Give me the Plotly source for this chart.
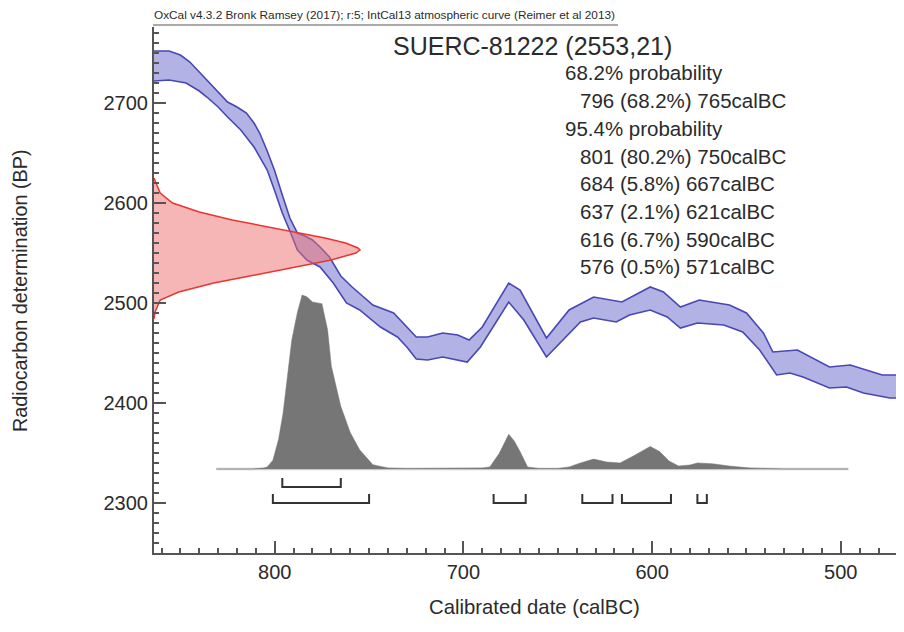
import plotly.graph_objects as go

# ---------------- data ----------------
# IntCal13 band, upper edge (calBC, BP)
curve_upper_year = [864, 856, 850, 845, 840, 835, 830, 825, 820, 815, 811, 808, 804, 800, 796, 792,
                    788, 784, 780, 776, 771, 765, 759, 748, 737, 730, 725, 719, 711, 703, 697, 690,
                    676, 670, 656, 644, 631, 616, 601, 594, 585, 575, 559, 550, 541, 536, 523, 506,
                    495, 478, 466]
curve_upper_bp = [2752, 2752, 2748, 2741, 2731, 2721, 2710, 2701, 2696, 2690, 2680, 2670, 2652, 2632, 2608, 2585,
                  2570, 2567, 2563, 2556, 2546, 2527, 2516, 2498, 2490, 2476, 2466, 2466, 2470, 2468, 2463, 2476,
                  2520, 2513, 2465, 2493, 2506, 2501, 2516, 2511, 2496, 2503, 2498, 2490, 2470, 2451, 2453, 2436,
                  2438, 2428, 2428]
# IntCal13 band, lower edge
curve_lower_year = [864, 856, 847, 840, 836, 830, 825, 818, 811, 804, 800, 796, 792, 788, 783, 776,
                    769, 762, 755, 744, 735, 730, 725, 719, 711, 698, 691, 676, 668, 656, 647, 638,
                    631, 619, 612, 601, 592, 585, 576, 562, 552, 543, 534, 527, 520, 506, 497, 488,
                    474, 466]
curve_lower_bp = [2722, 2723, 2720, 2712, 2706, 2696, 2686, 2673, 2656, 2633, 2612, 2590, 2572, 2553, 2543, 2536,
                  2520, 2500, 2493, 2476, 2466, 2456, 2444, 2443, 2446, 2441, 2456, 2501, 2483, 2446, 2463, 2481,
                  2485, 2481, 2488, 2493, 2486, 2475, 2480, 2478, 2471, 2453, 2428, 2430, 2426, 2415, 2416, 2410,
                  2405, 2405]

# Radiocarbon determination SUERC-81222 (2553 +/- 21 BP), relative probability
c14_bp = [2625, 2616, 2610, 2600, 2591, 2583, 2576, 2571, 2565, 2560, 2555, 2553, 2550, 2543,
          2535, 2526, 2520, 2511, 2503, 2491, 2484]
c14_prob = [0.0, 0.02, 0.03, 0.09, 0.22, 0.38, 0.55, 0.68, 0.83, 0.93, 0.99, 1.0, 0.98, 0.86,
            0.67, 0.44, 0.29, 0.12, 0.03, 0.005, 0.0]

# Calibrated date distribution (calBC, relative probability)
cal_year = [831, 812, 806, 804, 801, 798, 795.6, 793, 791, 788, 785.5, 783, 780, 775, 772, 770, 765,
            760, 755, 748, 740, 730, 700, 690, 686, 681, 676, 673, 670, 666, 660, 650, 644, 638,
            631, 624, 617, 609, 601, 596, 591, 586, 580, 576, 568, 559, 548, 540, 530, 496]
cal_prob = [0, 0, 0.006, 0.012, 0.05, 0.17, 0.32, 0.55, 0.74, 0.90, 1.0, 0.99, 0.96, 0.95, 0.80, 0.59, 0.36,
            0.21, 0.11, 0.025, 0.006, 0.003, 0.003, 0.006, 0.012, 0.09, 0.20, 0.16, 0.10, 0.012, 0.003, 0.003, 0.012, 0.035,
            0.057, 0.04, 0.035, 0.08, 0.13, 0.10, 0.046, 0.017, 0.023, 0.035, 0.03, 0.017, 0.006, 0.002, 0, 0]

# Ranges (calBC)
range68 = [(796, 765)]
range954 = [(801, 750), (684, 667), (637, 621), (616, 590), (576, 571)]

title_text = "SUERC-81222 (2553,21)"
header_text = "OxCal v4.3.2 Bronk Ramsey (2017); r:5; IntCal13 atmospheric curve (Reimer et al 2013)"
prob_lines = [("68.2% probability", 0), ("796 (68.2%) 765calBC", 1), ("95.4% probability", 0),
              ("801 (80.2%) 750calBC", 1), ("684 (5.8%) 667calBC", 1), ("637 (2.1%) 621calBC", 1),
              ("616 (6.7%) 590calBC", 1), ("576 (0.5%) 571calBC", 1)]

x_ticks = [800, 700, 600, 500]
y_ticks = [2300, 2400, 2500, 2600, 2700]

# ---------------- figure ----------------
OFF = 8                      # page body margin
W, H = 904 - OFF, 632 - OFF
L, R, T, B = 154 - OFF, 0, 27 - OFF, 632 - 553
PW, PH = W - L - R, H - T - B

def px_x(px):
    return (px - OFF - L) / PW

def px_y(py):
    return (H - B - (py - OFF)) / PH

FONT = "Liberation Sans, Arial, sans-serif"
TXT = "#2b2b2b"
AX = "#555555"

fig = go.Figure()

# red radiocarbon determination (x2 overlay: density)
fig.add_trace(go.Scatter(x=c14_prob, y=c14_bp, xaxis="x2", yaxis="y", mode="lines",
                         fill="tozerox", fillcolor="rgba(240,110,110,0.5)",
                         line=dict(color="#e8352f", width=1.5), hoverinfo="skip"))

# blue calibration band
band_x = curve_upper_year + curve_lower_year[::-1]
band_y = curve_upper_bp + curve_lower_bp[::-1]
fig.add_trace(go.Scatter(x=band_x, y=band_y, mode="lines", fill="toself",
                         fillcolor="rgba(85,85,195,0.45)",
                         line=dict(color="#4747b5", width=1.6), hoverinfo="skip"))

# calibrated distribution (y2 overlay)
fig.add_trace(go.Scatter(x=[cal_year[0], cal_year[-1]], y=[0, 0], xaxis="x", yaxis="y2", mode="lines",
                         line=dict(color="#c9c9c9", width=2.5), hoverinfo="skip"))
fig.add_trace(go.Scatter(x=cal_year, y=cal_prob, xaxis="x", yaxis="y2", mode="lines",
                         fill="tozeroy", fillcolor="#767676",
                         line=dict(color="#767676", width=0.5), hoverinfo="skip"))

# range brackets
def brackets(ranges, level, h):
    xs, ys = [], []
    for a, b in ranges:
        xs += [a, a, b, b, None]
        ys += [level + h, level, level, level + h, None]
    return xs, ys

bx, by = brackets(range68, 2316, 9)
fig.add_trace(go.Scatter(x=bx, y=by, mode="lines", line=dict(color="#333", width=2), hoverinfo="skip"))
bx, by = brackets(range954, 2300, 9)
fig.add_trace(go.Scatter(x=bx, y=by, mode="lines", line=dict(color="#333", width=2), hoverinfo="skip"))

axis_common = dict(showgrid=False, zeroline=False, showline=True, linecolor=AX, linewidth=2,
                   ticks="inside", ticklen=12, tickwidth=2, tickcolor=AX,
                   tickfont=dict(size=20, color=TXT, family=FONT))

fig.update_layout(
    width=W, height=H, margin=dict(l=L, r=R, t=T, b=B, pad=0),
    plot_bgcolor="white", paper_bgcolor="white", showlegend=False,
    font=dict(family=FONT, color=TXT),
    xaxis=dict(range=[864, 466.5], tickvals=x_ticks, ticktext=[str(v) for v in x_ticks],
               minor=dict(ticks="inside", ticklen=5, tickwidth=1.5, tickcolor=AX, tick0=0, dtick=10, showgrid=False),
               **axis_common),
    yaxis=dict(range=[2250, 2776], tickvals=y_ticks, ticktext=[str(v) for v in y_ticks],
               minor=dict(ticks="inside", ticklen=5, tickwidth=1.5, tickcolor=AX, tick0=0, dtick=10, showgrid=False),
               **axis_common),
    xaxis2=dict(overlaying="x", range=[0, 750 / 206], visible=False, anchor="y"),
    yaxis2=dict(overlaying="y", range=[-84 / 174, 442 / 174], visible=False, anchor="x"),
)

annotations = []
annotations.append(dict(x=px_x(152), y=px_y(15), xref="paper", yref="paper", text=header_text,
                        showarrow=False, xanchor="left", yanchor="middle",
                        font=dict(size=11.8, color=TXT, family=FONT)))
annotations.append(dict(x=px_x(532), y=px_y(46), xref="paper", yref="paper", text=title_text,
                        showarrow=False, xanchor="center", yanchor="middle",
                        font=dict(size=25, color=TXT, family=FONT)))
for i, (t, indent) in enumerate(prob_lines):
    annotations.append(dict(x=px_x(563 + 15 * indent), y=px_y(73 + 27.7 * i), xref="paper", yref="paper",
                            text=t, showarrow=False, xanchor="left", yanchor="middle",
                            font=dict(size=20.5, color=TXT, family=FONT)))
annotations.append(dict(x=px_x(534), y=px_y(607), xref="paper", yref="paper", text="Calibrated date (calBC)",
                        showarrow=False, xanchor="center", yanchor="middle",
                        font=dict(size=20.3, color=TXT, family=FONT)))
annotations.append(dict(x=px_x(20), y=px_y(291), xref="paper", yref="paper",
                        text="Radiocarbon determination (BP)", textangle=-90,
                        showarrow=False, xanchor="center", yanchor="middle",
                        font=dict(size=19.8, color=TXT, family=FONT)))
fig.update_layout(annotations=annotations)

# thin rule under the header
fig.add_shape(type="line", xref="paper", yref="paper", x0=px_x(153), x1=px_x(618), y0=px_y(25), y1=px_y(25),
              line=dict(color="#555", width=1))

fig.write_html("out.html")
